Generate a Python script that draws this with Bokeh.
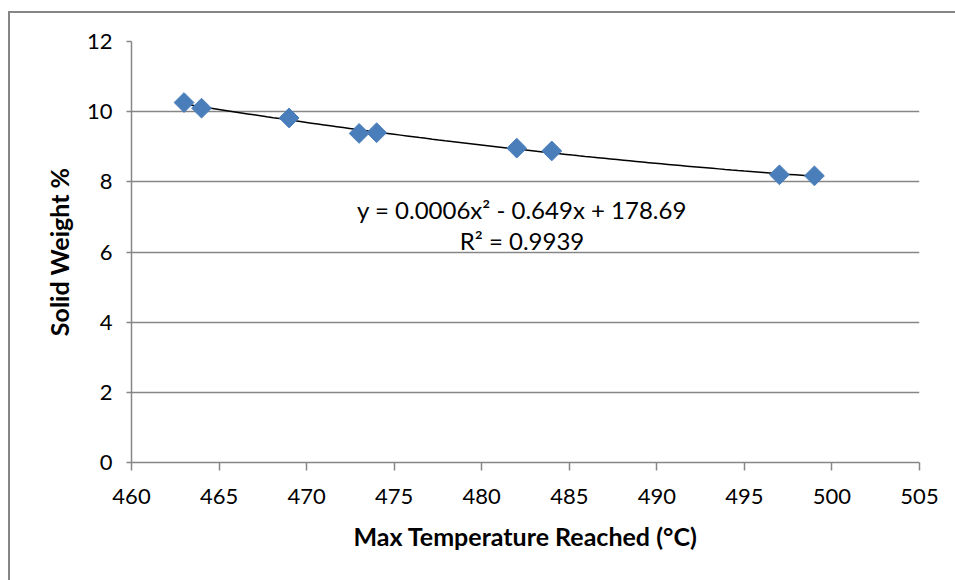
import numpy as np
from bokeh.plotting import figure
from bokeh.models import ColumnDataSource, FixedTicker
from bokeh.core.properties import value
from bokeh.embed import file_html
from bokeh.resources import INLINE

# data
max_temp = [463, 464, 469, 473, 474, 482, 484, 497, 499]
solid_weight = [10.26, 10.10, 9.82, 9.38, 9.40, 8.96, 8.88, 8.20, 8.17]
x_ticks = [460, 465, 470, 475, 480, 485, 490, 495, 500, 505]
y_ticks = [0, 2, 4, 6, 8, 10, 12]
equation_lines = ["y = 0.0006x\u00b2 - 0.649x + 178.69", "R\u00b2 = 0.9939"]

FONT = "Lato"
GRAY = "#868686"
BLUE = "#4A7EBB"

p = figure(width=947, height=569, output_backend="svg", toolbar_location=None,
           x_range=(460, 505), y_range=(0, 12),
           min_border_left=121, min_border_right=38, min_border_top=28, min_border_bottom=120,
           margin=(11, 0, 0, 8),
           styles={"border-left": "2px solid " + GRAY, "border-top": "2px solid " + GRAY})
p.outline_line_color = None
p.background_fill_color = "white"
p.border_fill_color = "white"

# grid
p.xgrid.grid_line_color = None
p.ygrid.grid_line_color = GRAY
p.ygrid.grid_line_width = 1.5
p.ygrid.ticker = FixedTicker(ticks=y_ticks)

# axes
p.xaxis.ticker = FixedTicker(ticks=x_ticks)
p.yaxis.ticker = FixedTicker(ticks=y_ticks)
for ax in (p.xaxis[0], p.yaxis[0]):
    ax.axis_line_color = GRAY
    ax.axis_line_width = 1.5
    ax.major_tick_line_color = GRAY
    ax.major_tick_line_width = 1.5
    ax.major_tick_in = 0
    ax.minor_tick_line_color = None
    ax.major_label_text_font = FONT
    ax.major_label_text_font_size = "22px"
    ax.major_label_text_color = "black"
    ax.axis_label_text_font = FONT
    ax.axis_label_text_font_size = "25px"
    ax.axis_label_text_font_style = "bold"
    ax.axis_label_text_color = "black"

p.xaxis.major_tick_out = 8
p.xaxis.major_label_standoff = 18
p.xaxis.axis_label = "Max Temperature Reached (\u00b0C)"
p.xaxis.axis_label_standoff = 14

p.yaxis.major_tick_out = 5
p.yaxis.major_label_standoff = 14
p.yaxis.axis_label = "Solid Weight %"
p.yaxis.axis_label_standoff = 10

# polynomial trendline (order 2) fitted to the data
coef = np.polyfit(max_temp, solid_weight, 2)
xt = np.linspace(min(max_temp), max(max_temp), 100)
yt = np.polyval(coef, xt)
p.line(xt, yt, line_color="black", line_width=1.5)

src = ColumnDataSource(dict(x=max_temp, y=solid_weight))
p.scatter("x", "y", source=src, marker="square", size=14, angle=np.pi / 4,
          fill_color=BLUE, line_color=BLUE)

# equation label
p.text(x=[482.3, 482.3], y=[7.22, 6.34], text=equation_lines,
       text_font=value(FONT), text_font_size="24px", text_color="black",
       text_align="center", text_baseline="middle")

open("out.html", "w").write(file_html(p, INLINE))
